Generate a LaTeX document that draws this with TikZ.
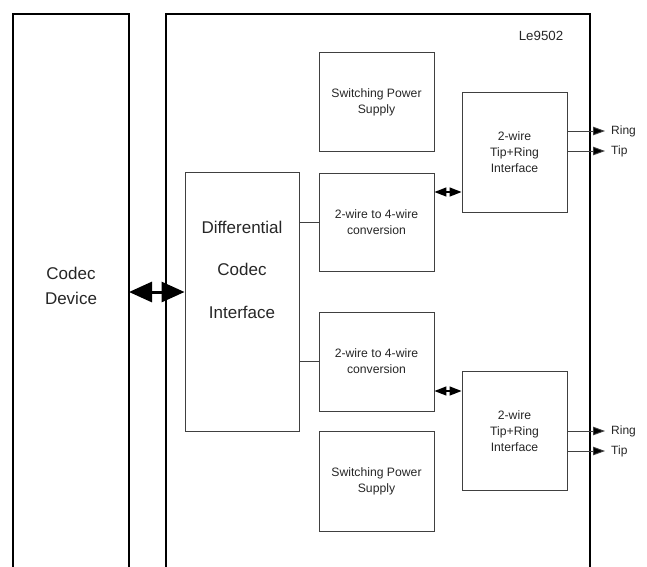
\documentclass[tikz,border=0pt]{standalone}
\usepackage{fontspec}
\setmainfont{Liberation Sans}
\usetikzlibrary{arrows.meta}
\begin{document}
\begin{tikzpicture}[x=1pt,y=-1pt,
  outer/.style={draw=black,line width=1.6pt},
  blk/.style={draw=black!75,line width=0.9pt,rectangle},
  small/.style={font=\fontsize{12.2}{15.8}\selectfont,align=center,text=black!85},
  big/.style={font=\fontsize{17}{20}\selectfont,text=black!85},
  link/.style={draw=black!75,line width=0.9pt},
  dbl/.style={draw=black,line width=1.4pt,{Triangle[length=12pt,width=9pt]}-{Triangle[length=12pt,width=9pt]}},
  bigdbl/.style={draw=black,line width=3pt,{Triangle[length=23pt,width=20pt]}-{Triangle[length=23pt,width=20pt]}},
  outarrow/.style={draw=black!75,line width=0.9pt,-{Triangle[length=12pt,width=8.5pt,fill=black]}},
  lbl/.style={font=\fontsize{12}{14}\selectfont,text=black!85,anchor=west,inner sep=0pt}
]
\useasboundingbox (0,0) rectangle (647,566);
% outer boxes (open at bottom)
\draw[outer] (13,570) -- (13,14) -- (129,14) -- (129,570);
\draw[outer] (166,570) -- (166,14) -- (590,14) -- (590,570);
\node[font=\fontsize{13.3}{15}\selectfont,text=black!85] (le) at (541,36) {Le9502};
\node[big] (codec) at (71,273) {Codec};
\node[big] (device) at (71,298) {Device};
\coordinate (codecR) at (129,292);
% inner blocks
\node[blk,minimum width=115pt,minimum height=99pt,small] (sps1) at (376.5,102) {Switching Power\\Supply};
\node[blk,minimum width=105pt,minimum height=120pt,small] (tr1) at (514.5,152) {2-wire\\Tip+Ring\\Interface};
\node[blk,minimum width=114pt,minimum height=259pt] (dci) at (242,301.5) {};
\node[big] (dci1) at (242,227) {Differential};
\node[big] (dci2) at (242,269) {Codec};
\node[big] (dci3) at (242,312) {Interface};
\node[blk,minimum width=115pt,minimum height=98pt,small] (cv1) at (376.5,222) {2-wire to 4-wire\\conversion};
\node[blk,minimum width=115pt,minimum height=99pt,small] (cv2) at (376.5,361.5) {2-wire to 4-wire\\conversion};
\node[blk,minimum width=105pt,minimum height=119pt,small] (tr2) at (514.5,431) {2-wire\\Tip+Ring\\Interface};
\node[blk,minimum width=115pt,minimum height=100pt,small] (sps2) at (376.5,481) {Switching Power\\Supply};
% links
\draw[link] (dci.east |- cv1.west) -- (cv1.west);
\draw[link] (dci.east |- cv2.west) -- (cv2.west);
\draw[dbl] (cv1.east |- 0,192) -- (tr1.west |- 0,192);
\draw[dbl] (cv2.east |- 0,391) -- (tr2.west |- 0,391);
\draw[bigdbl] (codecR) -- (dci.west |- codecR);
% ring / tip
\coordinate (r1) at (605,131);
\coordinate (t1) at (605,151);
\coordinate (r2) at (605,431);
\coordinate (t2) at (605,451);
\draw[outarrow] (tr1.east |- r1) -- (r1);
\draw[outarrow] (tr1.east |- t1) -- (t1);
\draw[outarrow] (tr2.east |- r2) -- (r2);
\draw[outarrow] (tr2.east |- t2) -- (t2);
\node[lbl] (rl1) at (611,131) {Ring};
\node[lbl] (tl1) at (611,151) {Tip};
\node[lbl] (rl2) at (611,431) {Ring};
\node[lbl] (tl2) at (611,451) {Tip};
\end{tikzpicture}
\end{document}
